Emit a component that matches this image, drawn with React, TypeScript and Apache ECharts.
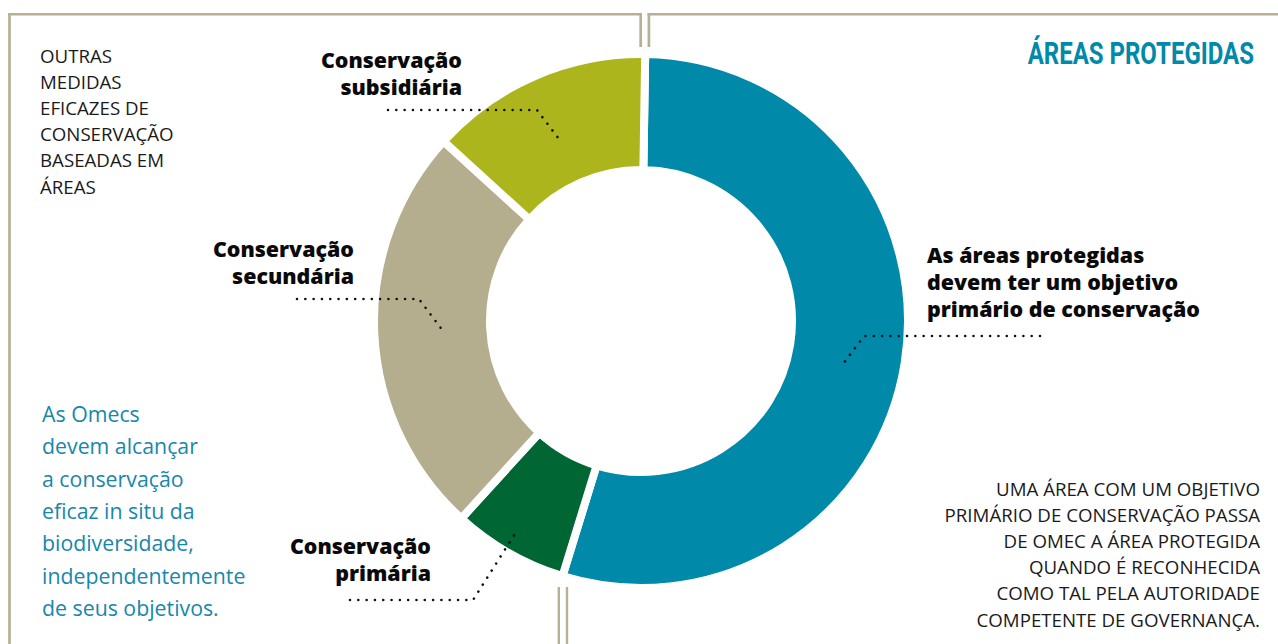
import React, { useEffect, useRef } from "react";
import * as echarts from "echarts";

const categories = [
  "Áreas protegidas",
  "Conservação primária",
  "Conservação secundária",
  "Conservação subsidiária",
];
const values = [54.5, 7, 25, 13.5];
const colors = ["#0089a9", "#006633", "#b5ae8e", "#acb51c"];

const titleText = "ÁREAS PROTEGIDAS";
const omecLines = ["OUTRAS", "MEDIDAS", "EFICAZES DE", "CONSERVAÇÃO", "BASEADAS EM", "ÁREAS"];
const omecNote = [
  "As Omecs",
  "devem alcançar",
  "a conservação",
  "eficaz in situ da",
  "biodiversidade,",
  "independentemente",
  "de seus objetivos.",
];
const paNote = [
  "UMA ÁREA COM UM OBJETIVO",
  "PRIMÁRIO DE CONSERVAÇÃO PASSA",
  "DE OMEC A ÁREA PROTEGIDA",
  "QUANDO É RECONHECIDA",
  "COMO TAL PELA AUTORIDADE",
  "COMPETENTE DE GOVERNANÇA.",
];
const segLabels = [
  "As áreas protegidas\ndevem ter um objetivo\nprimário de conservação",
  "Conservação\nprimária",
  "Conservação\nsecundária",
  "Conservação\nsubsidiária",
];

const FRAME = "#b7b092";
const FONT = "'Open Sans', 'Noto Sans', sans-serif";

function dotted(points: number[][]) {
  return {
    type: "polyline",
    z: 100,
    shape: { points },
    style: {
      stroke: "#111",
      lineWidth: 2.6,
      lineDash: [0.01, 8.3],
      lineCap: "round",
      fill: null,
    },
    silent: true,
  };
}

function vline(x: number, y1: number, y2: number, w = 2.7) {
  return {
    type: "line",
    z: 100,
    shape: { x1: x, y1, x2: x, y2 },
    style: { stroke: FRAME, lineWidth: w },
    silent: true,
  };
}
function hline(y: number, x1: number, x2: number, w = 2.6) {
  return {
    type: "line",
    z: 100,
    shape: { x1, y1: y, x2, y2: y },
    style: { stroke: FRAME, lineWidth: w },
    silent: true,
  };
}

function textBlock(
  lines: string,
  x: number,
  y: number,
  align: string,
  size: number,
  lh: number,
  color: string,
  weight: any = "normal"
) {
  return {
    type: "text",
    z: 100,
    x,
    y,
    style: {
      text: lines,
      fill: color,
      fontFamily: FONT,
      fontSize: size,
      fontWeight: weight,
      align,
      verticalAlign: "top",
      lineHeight: lh,
    },
    silent: true,
  };
}

export default function App() {
  const ref = useRef<HTMLDivElement>(null);
  useEffect(() => {
    if (!ref.current) return;
    const chart = echarts.init(ref.current, undefined, { renderer: "svg" });
    const data = categories.map((name, i) => ({
      name,
      value: values[i],
      itemStyle: { color: colors[i] },
    }));
    chart.setOption({
      animation: false,
      backgroundColor: "#ffffff",
      series: [
        {
          type: "pie",
          center: [641, 321],
          radius: [151, 267],
          startAngle: 89.1,
          clockwise: true,
          label: { show: false },
          labelLine: { show: false },
          itemStyle: { borderColor: "#ffffff", borderWidth: 8 },
          emphasis: { disabled: true },
          data,
        },
      ],
      graphic: [
        // frame
        vline(9.5, 13, 644),
        hline(14.2, 8, 642),
        vline(640.7, 13, 47),
        vline(648.9, 13, 47),
        hline(14.2, 647.6, 1278),
        vline(558.8, 587, 644, 2.4),
        vline(567, 587, 644, 2.4),
        // title
        {
          type: "text",
          z: 100,
          x: 1254,
          y: 53,
          scaleX: 0.75,
          style: {
            text: titleText,
            fill: "#0089a9",
            fontFamily: "Roboto, sans-serif",
            fontSize: 32,
            fontWeight: "bold",
            align: "right",
            verticalAlign: "middle",
          },
          silent: true,
        },
        textBlock(omecLines.join("\n"), 40, 42, "left", 18.7, 26.2, "#1a1a1a"),
        textBlock(omecNote.join("\n"), 42, 397, "left", 21.3, 32.4, "#1787ab"),
        textBlock(paNote.join("\n"), 1260, 475, "right", 18.7, 26.2, "#1a1a1a"),
        // segment labels
        textBlock(segLabels[3], 462, 46, "right", 21.4, 27, "#0a0a0a", 800),
        textBlock(segLabels[2], 354, 235, "right", 21.4, 27, "#0a0a0a", 800),
        textBlock(segLabels[1], 431, 532, "right", 21.4, 27, "#0a0a0a", 800),
        textBlock(segLabels[0], 927, 241, "left", 21.4, 27, "#0a0a0a", 800),
        // leader lines
        dotted([[388, 110], [537, 110], [562, 143]]),
        dotted([[297, 299], [419, 299], [443, 331]]),
        dotted([[350, 600], [473, 600], [518, 529]]),
        dotted([[1040, 336], [864, 336], [840, 368]]),
      ],
    });
    return () => chart.dispose();
  }, []);
  return (
    <div
      ref={ref}
      style={{ position: "fixed", left: 0, top: 0, width: 1278, height: 644 }}
    />
  );
}
